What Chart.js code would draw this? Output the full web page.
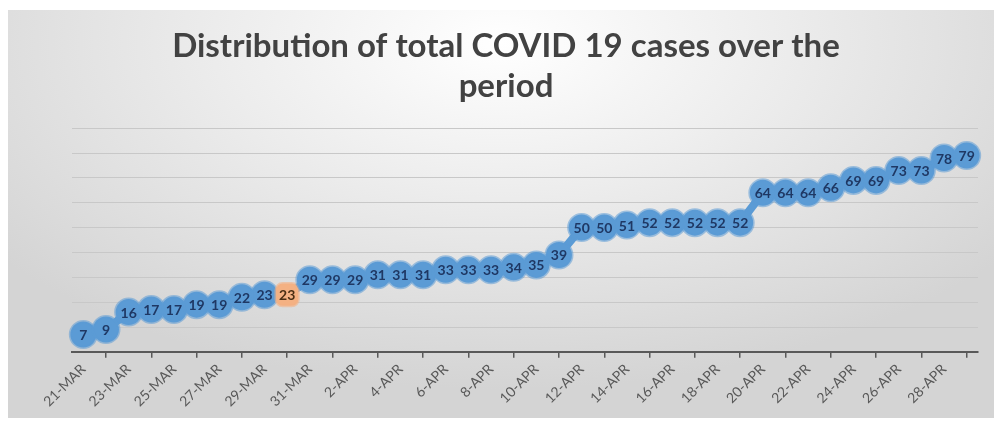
<!DOCTYPE html>
<html>
<head>
<meta charset="utf-8">
<script src="https://cdn.jsdelivr.net/npm/chart.js@4.4.1/dist/chart.umd.min.js"></script>
<style>
  html, body { margin: 0; padding: 0; background: #fff; }
  #wrap { position: relative; width: 994px; height: 423px; }
  #bg {
    position: absolute; left: 8px; top: 10px; width: 986px; height: 408px;
    background: radial-gradient(ellipse 65% 85% at 50% 8%, #ffffff 0%, #ececec 45%, #d4d4d4 100%);
  }
  #chart { position: absolute; left: 0; top: 0; }
</style>
</head>
<body>
<div id="wrap">
  <div id="bg"></div>
  <canvas id="chart" width="994" height="423"></canvas>
</div>
<script>
// dates on the x axis (21 Mar - 29 Apr)
const dates = [
  '21-MAR', '22-MAR', '23-MAR', '24-MAR', '25-MAR', '26-MAR', '27-MAR', '28-MAR',
  '29-MAR', '30-MAR', '31-MAR', '1-APR', '2-APR', '3-APR', '4-APR', '5-APR',
  '6-APR', '7-APR', '8-APR', '9-APR', '10-APR', '11-APR', '12-APR', '13-APR',
  '14-APR', '15-APR', '16-APR', '17-APR', '18-APR', '19-APR', '20-APR', '21-APR',
  '22-APR', '23-APR', '24-APR', '25-APR', '26-APR', '27-APR', '28-APR', '29-APR'
];

// total cases per day
const cases = [
  7, 9, 16, 17, 17, 19, 19, 22, 23, 23,
  29, 29, 29, 31, 31, 31, 33, 33, 33, 34,
  35, 39, 50, 50, 51, 52, 52, 52, 52, 52,
  64, 64, 64, 66, 69, 69, 73, 73, 78, 79
];

// the one point drawn in orange
const highlightIndex = 9;

const yTicks = [0, 90, 10]; // min, max, step

const blue = '#5b9bd5';
const orange = '#f4b183';

const pointColors = cases.map((v, i) => i === highlightIndex ? orange : blue);
const pointBorders = cases.map((v, i) => i === highlightIndex ? 'rgba(244,177,131,0.6)' : 'rgba(91,155,213,0.55)');
const pointStyles = cases.map((v, i) => i === highlightIndex ? 'rectRounded' : 'circle');

// write the value on each point
const pointLabels = {
  id: 'pointLabels',
  afterDatasetsDraw(chart) {
    const ctx = chart.ctx;
    const meta = chart.getDatasetMeta(0);
    ctx.save();
    ctx.font = 'bold 14px Lato';
    ctx.textAlign = 'center';
    ctx.textBaseline = 'middle';
    meta.data.forEach(function (pt, i) {
      ctx.fillStyle = i === highlightIndex ? '#4a2e14' : '#1f3864';
      ctx.fillText(String(cases[i]), pt.x, pt.y + 1);
    });
    ctx.restore();
  }
};

const ctx = document.getElementById('chart').getContext('2d');
new Chart(ctx, {
  type: 'line',
  data: {
    labels: dates,
    datasets: [{
      data: cases,
      borderColor: blue,
      borderWidth: 8,
      pointRadius: 13,
      pointHoverRadius: 13,
      pointStyle: pointStyles,
      pointBackgroundColor: pointColors,
      pointBorderColor: pointBorders,
      pointBorderWidth: 3,
      tension: 0,
      clip: false
    }]
  },
  options: {
    responsive: false,
    animation: false,
    events: [],
    layout: { padding: { left: 30, right: 12, top: 0, bottom: 10 } },
    plugins: {
      legend: { display: false },
      tooltip: { enabled: false },
      title: {
        display: true,
        text: ['Distribution of total COVID 19 cases over the', 'period'],
        color: '#424242',
        font: { family: 'Lato', size: 33, weight: 'bold', lineHeight: 1.2 },
        padding: { top: 27, bottom: 22 }
      }
    },
    scales: {
      x: {
        offset: true,
        grid: {
          offset: true,
          drawOnChartArea: false,
          drawTicks: true,
          tickLength: 6,
          color: '#595959',
          lineWidth: 1.5
        },
        border: { color: '#595959', width: 2 },
        ticks: {
          autoSkip: false,
          minRotation: 45,
          maxRotation: 45,
          color: '#595959',
          font: { family: 'Lato', size: 14 },
          callback: function (val, i) {
            return i % 2 === 0 ? dates[i] : null;
          }
        }
      },
      y: {
        min: yTicks[0],
        max: yTicks[1],
        afterFit: function (scale) { scale.width = 42; },
        ticks: { display: false, stepSize: yTicks[2] },
        grid: { color: '#c8c8c8', lineWidth: 1, drawTicks: false },
        border: { display: false }
      }
    }
  },
  plugins: [pointLabels]
});
</script>
</body>
</html>
